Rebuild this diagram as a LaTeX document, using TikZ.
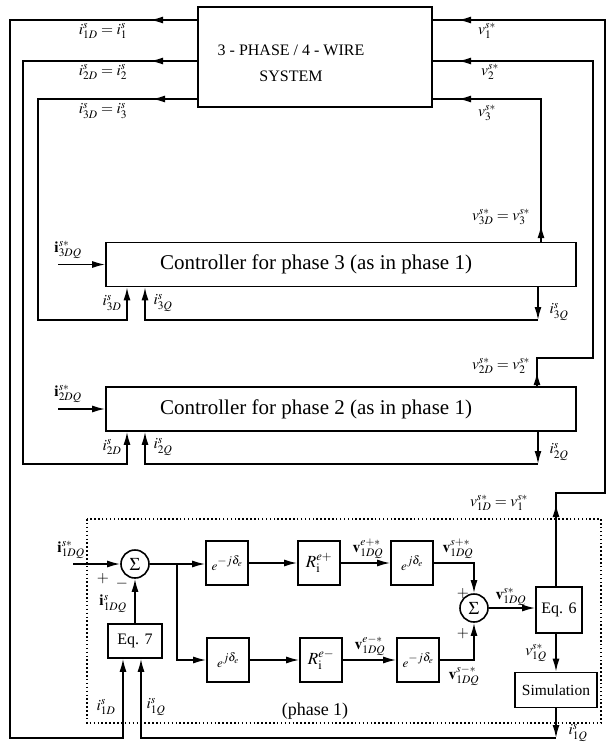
\documentclass[tikz,border=0pt]{standalone}
\usepackage{mathptmx}
\usepackage[no-math]{fontspec}
\setmainfont{Liberation Serif}
\usetikzlibrary{arrows.meta,positioning,calc}

\newcommand{\rot}[1]{$e$\raisebox{6pt}{\fontsize{12}{12}\selectfont$#1$}}

\tikzset{
  blk/.style={
    rectangle, draw, line width=1.6pt,
    minimum width=42pt, minimum height=44pt, inner sep=0pt,
    font=\fontsize{13}{13}\selectfont
  },
  ctrl/.style={
    rectangle, draw, line width=1.6pt,
    minimum width=470pt, minimum height=44pt, inner sep=0pt
  },
  sumnode/.style={
    circle, draw, line width=1.6pt,
    minimum size=28pt, inner sep=0pt,
    font=\fontsize{18}{18}\selectfont
  },
  wire/.style={line width=1.6pt},
  arr/.style={wire, -{Latex[length=13pt,width=7pt]}},
  lbl/.style={inner sep=0pt, font=\fontsize{15.5}{15.5}\selectfont},
  frame/.style={line width=1.6pt, dash pattern=on 1.5pt off 2.4pt}
}

\begin{document}
\begin{tikzpicture}[x=1pt,y=-1pt]
  \useasboundingbox (0,0) rectangle (607,745);

  %% 3-phase system
  \node[draw, line width=1.6pt, minimum width=234pt, minimum height=100pt] (sys) at (315,57) {};
  \node[font=\fontsize{16}{26}\selectfont, align=center] (systxt) at (291,63)
    {3 - PHASE / 4 - WIRE\\SYSTEM};
  \coordinate (s1w) at (198,20);
  \coordinate (s2w) at (198,61);
  \coordinate (s3w) at (198,99);
  \coordinate (s1e) at (432,20);
  \coordinate (s2e) at (432,61);
  \coordinate (s3e) at (432,99);

  %% Controllers for phases 3 and 2
  \node[ctrl] (ctrl3) at (341,264.5) {};
  \node[font=\fontsize{21}{21}\selectfont] (ctrl3txt) at (316,264) {Controller for phase 3 (as in phase 1)};
  \node[ctrl] (ctrl2) at (341,409) {};
  \node[font=\fontsize{21}{21}\selectfont] (ctrl2txt) at (316,409) {Controller for phase 2 (as in phase 1)};

  %% Phase 1 blocks
  \draw[frame] (87,519) rectangle (601,723);
  \node[sumnode] (sum1) at (135,564) {$\Sigma$};
  \node[blk, minimum width=54pt, minimum height=34pt, font=\fontsize{16}{16}\selectfont] (eq7) at (135,641) {Eq. 7};
  \node[blk] (expA) at (227,563) {\rot{-j\delta_e}};
  \node[blk] (expB) at (228,660) {\rot{j\delta_e}};
  \node[blk, font=\fontsize{17}{17}\selectfont] (RA) at (319,563) {$R_{\mathrm{i}}^{e+}$};
  \node[blk, font=\fontsize{17}{17}\selectfont] (RB) at (321,660) {$R_{\mathrm{i}}^{e-}$};
  \node[blk] (expC) at (412,563) {\rot{j\delta_e}};
  \node[blk] (expD) at (418,660) {\rot{-j\delta_e}};
  \node[sumnode] (sum2) at (474,608) {$\Sigma$};
  \node[blk, minimum width=46pt, minimum height=46pt, font=\fontsize{16}{16}\selectfont] (eq6) at (559,610) {Eq. 6};
  \node[blk, minimum width=82pt, minimum height=35pt, font=\fontsize{15.5}{16}\selectfont] (sim) at (556,690) {Simulation};
  \coordinate (in1) at (73,564);
  \coordinate (sp) at (177,564);

  %% Labels
  \node[lbl] (l1) at (103,31) {$i^{s}_{1D} = i^{s}_{1}$};
  \node[lbl] (l2) at (103,72) {$i^{s}_{2D} = i^{s}_{2}$};
  \node[lbl] (l3) at (103,111) {$i^{s}_{3D} = i^{s}_{3}$};
  \node[lbl] (r1) at (487,31) {$v^{s*}_{1}$};
  \node[lbl] (r2) at (490,72) {$v^{s*}_{2}$};
  \node[lbl] (r3) at (487,113) {$v^{s*}_{3}$};

  \node[lbl] (i3dq) at (68,250) {$\mathbf{i}^{s*}_{3DQ}$};
  \node[lbl] (i3d) at (112,303) {$i^{s}_{3D}$};
  \node[lbl] (i3q) at (163,303) {$i^{s}_{3Q}$};
  \node[lbl] (i3qr) at (559,312) {$i^{s}_{3Q}$};
  \node[lbl] (v3d) at (501,217) {$v^{s*}_{3D} = v^{s*}_{3}$};

  \node[lbl] (i2dq) at (68,394) {$\mathbf{i}^{s*}_{2DQ}$};
  \node[lbl] (i2d) at (112,447) {$i^{s}_{2D}$};
  \node[lbl] (i2q) at (163,447) {$i^{s}_{2Q}$};
  \node[lbl] (i2qr) at (559,452) {$i^{s}_{2Q}$};
  \node[lbl] (v2d) at (501,366) {$v^{s*}_{2D} = v^{s*}_{2}$};
  \node[lbl] (v1d) at (499,503) {$v^{s*}_{1D} = v^{s*}_{1}$};

  \node[lbl] (i1dqref) at (71,550) {$\mathbf{i}^{s*}_{1DQ}$};
  \node[lbl] (plus1) at (103,579) {$+$};
  \node[lbl] (minus1) at (122,584) {$-$};
  \node[lbl] (i1dq) at (113,604) {$\mathbf{i}^{s}_{1DQ}$};
  \node[lbl] (i1d) at (106,707) {$i^{s}_{1D}$};
  \node[lbl] (i1q) at (156,707) {$i^{s}_{1Q}$};
  \node[lbl] (vep) at (368,549) {$\mathbf{v}^{e+*}_{1DQ}$};
  \node[lbl] (vsp) at (458,549) {$\mathbf{v}^{s+*}_{1DQ}$};
  \node[lbl] (vem) at (370,646) {$\mathbf{v}^{e-*}_{1DQ}$};
  \node[lbl] (vsm) at (464,676) {$\mathbf{v}^{s-*}_{1DQ}$};
  \node[lbl] (plus2) at (463,594) {$+$};
  \node[lbl] (plus3) at (463,634) {$+$};
  \node[lbl] (vs) at (511,597) {$\mathbf{v}^{s*}_{1DQ}$};
  \node[lbl] (v1q) at (536,653) {$v^{s*}_{1Q}$};
  \node[lbl] (i1qr) at (578,733) {$i^{s}_{1Q}$};
  \node[font=\fontsize{18}{18}\selectfont] (ph1) at (315,711) {(phase 1)};

  %% Currents from the system back to the controllers
  \draw[arr] (s1w) -- (10,20) -- (10,738) -- (123,738) -- (123,0 |- eq7.south);
  \draw[arr] (s1w) -- (150,20);
  \draw[arr] (s2w) -- (23,61) -- (23,464) -- (127,464) -- (127,0 |- ctrl2.south);
  \draw[arr] (s2w) -- (150,61);
  \draw[arr] (s3w) -- (38,99) -- (38,320) -- (127,320) -- (127,0 |- ctrl3.south);
  \draw[arr] (s3w) -- (152,99);

  %% Voltage references to the system
  \draw[arr] (541,0 |- ctrl3.north) -- (541,225);
  \draw[wire] (541,0 |- ctrl3.north) -- (541,99) -- (s3e);
  \draw[arr] (541,99) -- (458,99);
  \draw[arr] (537,0 |- ctrl2.north) -- (537,372);
  \draw[wire] (537,0 |- ctrl2.north) -- (537,358) -- (593,358) -- (593,61) -- (s2e);
  \draw[arr] (593,61) -- (458,61);
  \draw[arr] (556,0 |- eq6.north) -- (556,504);
  \draw[wire] (556,0 |- eq6.north) -- (556,493) -- (605,493) -- (605,20) -- (s1e);
  \draw[arr] (605,20) -- (458,20);

  %% Controller inputs and Q loops
  \draw[arr] (58,0 |- ctrl3.west) -- (ctrl3.west);
  \draw[arr] (58,0 |- ctrl2.west) -- (ctrl2.west);
  \draw[arr] (538,0 |- ctrl3.south) -- (538,320);
  \draw[arr] (538,320) -- (145,320) -- (145,0 |- ctrl3.south);
  \draw[arr] (538,0 |- ctrl2.south) -- (538,464);
  \draw[arr] (538,464) -- (145,464) -- (145,0 |- ctrl2.south);

  %% Phase 1 signal flow
  \draw[arr] (in1) -- (sum1.west);
  \draw[arr] (eq7.north) -- (sum1.south);
  \draw[arr] (sum1.east) -- (sum1.east -| expA.west);
  \draw[arr] (sp) |- (expB.west);
  \draw[arr] (expA) -- (RA);
  \draw[arr] (RA) -- (expC);
  \draw[arr] (expB) -- (RB);
  \draw[arr] (RB) -- (expD);
  \draw[arr] (expC.east) -| (sum2.north);
  \draw[arr] (expD.east) -| (sum2.south);
  \draw[arr] (sum2.east) -- (sum2.east -| eq6.west);
  \draw[arr] (556,0 |- eq6.south) -- (556,0 |- sim.north);
  \draw[arr] (sim.south) -- (556,738);
  \draw[arr] (556,738) -- (141,738) -- (141,0 |- eq7.south);
\end{tikzpicture}
\end{document}
